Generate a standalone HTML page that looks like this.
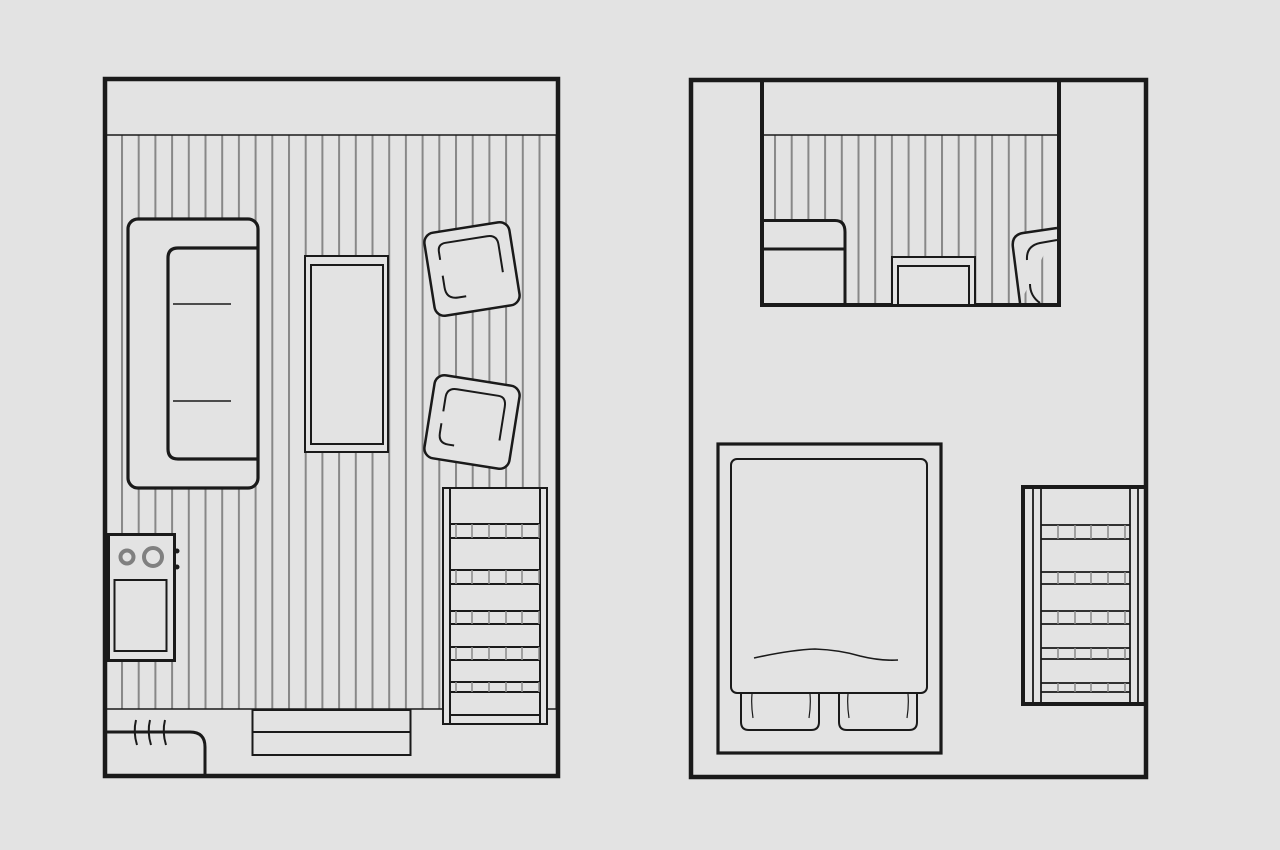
<!DOCTYPE html>
<html><head><meta charset="utf-8"><style>html,body{margin:0;padding:0;background:#e3e3e3}svg{display:block}</style></head><body>
<svg width="1280" height="850" viewBox="0 0 1280 850" xmlns="http://www.w3.org/2000/svg">
<rect width="1280" height="850" fill="#e3e3e3"/>
<defs>
<pattern id="st" x="121" y="0" width="16.7" height="10" patternUnits="userSpaceOnUse">
<rect x="0" y="0" width="2" height="10" fill="#888"/></pattern>
<pattern id="st2" x="774" y="0" width="16.7" height="10" patternUnits="userSpaceOnUse">
<rect x="0" y="0" width="2" height="10" fill="#888"/></pattern>
</defs>
<g fill="none" stroke="#1a1a1a">
<!-- LEFT ROOM -->
<rect x="106" y="135" width="450" height="574" fill="url(#st)" stroke="none"/>
<rect x="105" y="79" width="453" height="697" stroke-width="4.5"/>
<line x1="105" y1="135" x2="558" y2="135" stroke-width="1.5"/>
<line x1="105" y1="709" x2="558" y2="709" stroke-width="1.5"/>
<!-- sofa -->
<rect x="128" y="219" width="130" height="269" rx="10" fill="#e3e3e3" stroke-width="3.2"/>
<path d="M258,248 H178 Q168,248 168,258 V449 Q168,459 178,459 H258" stroke-width="3.2"/>
<line x1="173" y1="304" x2="231" y2="304" stroke-width="1.5"/>
<line x1="173" y1="401" x2="231" y2="401" stroke-width="1.5"/>
<!-- coffee table -->
<rect x="305" y="256" width="83" height="196" fill="#e3e3e3" stroke-width="2"/>
<rect x="311" y="265" width="72" height="179" stroke-width="2"/>
<!-- chairs -->
<g transform="translate(472,269) rotate(-9)">
<rect x="-43" y="-42" width="86" height="84" rx="10" fill="#e3e3e3" stroke-width="2.5"/>
<path d="M-30,-14 V-22 Q-30,-30 -22,-30 H20 Q30,-30 30,-20 V8" stroke-width="2"/>
<path d="M-30,2 V14 Q-30,26 -18,26 H-10" stroke-width="2"/>
</g>
<g transform="translate(472,422) rotate(9)">
<rect x="-43" y="-42" width="86" height="84" rx="10" fill="#e3e3e3" stroke-width="2.5"/>
<path d="M-30,-6 V-20 Q-30,-30 -20,-30 H22 Q30,-30 30,-20 V14" stroke-width="2"/>
<path d="M-30,6 V16 Q-30,26 -20,26 H-14" stroke-width="2"/>
</g>
<!-- shelf left -->
<rect x="443" y="488" width="104" height="236" fill="#e3e3e3" stroke-width="2"/>
<line x1="450" y1="488" x2="450" y2="724" stroke-width="2"/>
<line x1="540" y1="488" x2="540" y2="724" stroke-width="2"/>
<g stroke-width="2">
<line x1="450" y1="524" x2="540" y2="524"/><line x1="450" y1="538" x2="540" y2="538"/>
<line x1="450" y1="570" x2="540" y2="570"/><line x1="450" y1="584" x2="540" y2="584"/>
<line x1="450" y1="611" x2="540" y2="611"/><line x1="450" y1="624" x2="540" y2="624"/>
<line x1="450" y1="647" x2="540" y2="647"/><line x1="450" y1="660" x2="540" y2="660"/>
<line x1="450" y1="682" x2="540" y2="682"/><line x1="450" y1="692" x2="540" y2="692"/>
<line x1="450" y1="715" x2="540" y2="715"/>
</g>
<g stroke="#8a8a8a" stroke-width="1.5">
<path d="M456,524V538M472,524V538M489,524V538M506,524V538M522,524V538M539,524V538"/>
<path d="M456,570V584M472,570V584M489,570V584M506,570V584M522,570V584M539,570V584"/>
<path d="M456,611V624M472,611V624M489,611V624M506,611V624M522,611V624M539,611V624"/>
<path d="M456,647V660M472,647V660M489,647V660M506,647V660M522,647V660M539,647V660"/>
<path d="M456,682V692M472,682V692M489,682V692M506,682V692M522,682V692M539,682V692"/>
</g>
<!-- stove -->
<rect x="108.5" y="534.5" width="66" height="126" fill="#e3e3e3" stroke-width="3"/>
<circle cx="127" cy="557" r="6.5" stroke="#808080" stroke-width="4"/>
<circle cx="153" cy="557" r="9" stroke="#808080" stroke-width="4"/>
<rect x="114.5" y="580" width="52" height="71" stroke-width="2"/>
<circle cx="177" cy="551" r="2" fill="#1a1a1a"/><circle cx="177" cy="567" r="2" fill="#1a1a1a"/>
<!-- step -->
<rect x="252.5" y="710" width="158" height="45" stroke-width="2"/>
<line x1="252" y1="732" x2="411" y2="732" stroke-width="2"/>
<!-- counter -->
<path d="M105,732 H190 Q205,732 205,747 V777" stroke-width="3"/>
<path d="M136,720 Q133,732 137,745 M150,720 Q147,732 151,745 M165,720 Q162,732 166,745" stroke-width="2"/>
<!-- RIGHT ROOM -->
<rect x="691" y="80" width="455" height="697" stroke-width="4.5"/>
<rect x="764" y="135" width="293" height="168" fill="url(#st2)" stroke="none"/>
<rect x="762" y="80" width="297" height="225" stroke-width="4"/>
<line x1="764" y1="135" x2="1057" y2="135" stroke-width="1.5"/>
<rect x="765" y="222" width="79" height="81" fill="#e3e3e3" stroke="none"/>
<path d="M764,220.5 H835 Q845,220.5 845,232 V303" stroke-width="3"/>
<line x1="764" y1="249" x2="845" y2="249" stroke-width="3"/>
<rect x="892" y="257" width="83" height="48" fill="#e3e3e3" stroke-width="2"/>
<path d="M898,304 V266 H969 V304" stroke-width="2"/>
<path d="M1057,228 L1023,233 Q1011,235 1013,248 L1020,303" fill="#e3e3e3" stroke-width="2.5"/>
<path d="M1057,240 L1040,243 Q1026,246 1027,260 M1030,284 Q1030,296 1040,303" stroke-width="2"/>
<!-- bed -->
<rect x="718" y="444" width="223" height="309" stroke-width="3.2"/>
<rect x="731" y="459" width="196" height="234" rx="6" stroke-width="2"/>
<path d="M741,693 V722 Q741,730 749,730 H811 Q819,730 819,722 V693" stroke-width="2"/>
<path d="M839,693 V722 Q839,730 847,730 H909 Q917,730 917,722 V693" stroke-width="2"/>
<path d="M752,694 Q751,705 753,718 M810,694 Q811,705 809,718 M848,694 Q847,705 849,718 M908,694 Q909,705 907,718" stroke-width="1.2"/>
<path d="M754,658 Q790,650 815,649 Q840,650 860,656 Q880,661 898,660" stroke-width="1.6"/>
<!-- right shelf -->
<path d="M1145,487 H1023 V704 H1145" stroke-width="4"/>
<g stroke-width="1.8">
<line x1="1033" y1="489" x2="1033" y2="702"/><line x1="1041" y1="489" x2="1041" y2="702"/>
<line x1="1130" y1="489" x2="1130" y2="702"/><line x1="1138" y1="489" x2="1138" y2="702"/>
<path d="M1041,525H1130M1041,539H1130M1041,572H1130M1041,584H1130M1041,611H1130M1041,624H1130M1041,648H1130M1041,659H1130M1041,683H1130M1041,692H1130"/>
</g>
<g stroke="#8a8a8a" stroke-width="1.5">
<path d="M1058,525V539M1075,525V539M1091,525V539M1108,525V539M1125,525V539"/>
<path d="M1058,572V584M1075,572V584M1091,572V584M1108,572V584M1125,572V584"/>
<path d="M1058,611V624M1075,611V624M1091,611V624M1108,611V624M1125,611V624"/>
<path d="M1058,648V659M1075,648V659M1091,648V659M1108,648V659M1125,648V659"/>
<path d="M1058,683V692M1075,683V692M1091,683V692M1108,683V692M1125,683V692"/>
</g>
</g>
</svg>
</body></html>
